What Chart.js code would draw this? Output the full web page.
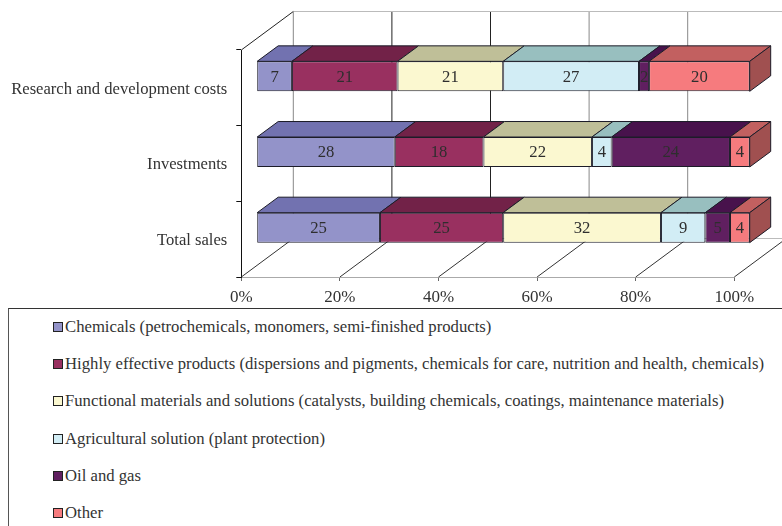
<!DOCTYPE html>
<html>
<head>
<meta charset="utf-8">
<title>Sales, investments and R&amp;D by segment</title>
<script src="https://cdn.jsdelivr.net/npm/chart.js@4"></script>
<style>
  html, body { margin: 0; padding: 0; background: #fff; overflow: hidden; }
  #wrap { position: relative; width: 782px; height: 526px; overflow: hidden; }
  #chart { position: absolute; left: 0; top: 0; }
  #legend {
    position: absolute; left: 8px; top: 308px; width: 774px; height: 218px;
    border-top: 1px solid #333; border-left: 1px solid #555; box-sizing: border-box;
    font: 16.7px "Liberation Serif", serif; color: #333;
  }
  .row { position: absolute; left: 44px; white-space: nowrap; line-height: 18px; }
  .box { display: inline-block; width: 8px; height: 8px; border: 1px solid #222; margin-right: 2px; }
</style>
</head>
<body>
<div id="wrap">
  <canvas id="chart" width="782" height="308"></canvas>
  <div id="legend"></div>
</div>
<script>
const categories = ['Research and development costs', 'Investments', 'Total sales'];
const tickStep = 20;

const seriesNames = [
  'Chemicals (petrochemicals, monomers, semi-finished products)',
  'Highly effective products (dispersions and pigments, chemicals for care, nutrition and health, chemicals)',
  'Functional materials and solutions (catalysts, building chemicals, coatings, maintenance materials)',
  'Agricultural solution (plant protection)',
  'Oil and gas',
  'Other'
];
const chemicals = [7, 28, 25];
const highlyEffective = [21, 18, 25];
const functionalMaterials = [21, 22, 32];
const agricultural = [27, 4, 9];
const oilAndGas = [2, 24, 5];
const other = [20, 4, 4];
const seriesValues = [chemicals, highlyEffective, functionalMaterials, agricultural, oilAndGas, other];

const frontColors = ['#9393c9', '#993060', '#fbf8d0', '#d2edf5', '#601f60', '#f67b7e'];
const topColors = ['#7272b0', '#722248', '#bfbf98', '#98bfbf', '#48124c', '#c26060'];
const sideColor = '#a05050';
const edgeColor = '#1c1c28';
const gridColors = ['#888', '#222', '#222', '#888', '#888', '#888'];

// the picture is a 100% stacked bar, so each row is scaled to its own total
const totals = categories.map((c, i) => seriesValues.reduce((sum, s) => sum + s[i], 0));
const shares = seriesValues.map(s => s.map((v, i) => v / totals[i] * 100));

// fake 3D: the bars sit a bit into the box, the box goes back on a slant
const barShift = { x: 15.4, y: -11.5 };
const barDepth = { x: 21, y: -15.5 };
const wallDepth = { x: 52, y: -38.5 };

function line(ctx, x1, y1, x2, y2, color) {
  ctx.strokeStyle = color;
  ctx.lineWidth = 1;
  ctx.beginPath();
  ctx.moveTo(x1, y1);
  ctx.lineTo(x2, y2);
  ctx.stroke();
}

function poly(ctx, pts, fill) {
  ctx.fillStyle = fill;
  ctx.strokeStyle = edgeColor;
  ctx.lineWidth = 1;
  ctx.beginPath();
  pts.forEach((p, i) => (i ? ctx.lineTo(p[0], p[1]) : ctx.moveTo(p[0], p[1])));
  ctx.closePath();
  ctx.fill();
  ctx.stroke();
}

const box3d = {
  id: 'box3d',
  beforeDatasetsDraw(chart) {
    const { ctx, chartArea: a, scales: { x } } = chart;
    const dx = wallDepth.x, dy = wallDepth.y;

    // walls and floor lines
    x.ticks.forEach((t, i) => {
      const px = x.getPixelForValue(t.value);
      line(ctx, px + dx, a.top + dy, px + dx, a.bottom + dy, gridColors[i]);
      line(ctx, px, a.bottom, px + dx, a.bottom + dy, '#333');
    });
    line(ctx, a.left + dx, a.top + dy, a.right + dx, a.top + dy, '#bbb');
    line(ctx, a.left + dx, a.bottom + dy, a.right + dx, a.bottom + dy, '#bbb');
    line(ctx, a.left, a.top, a.left + dx, a.top + dy, '#222');

    // top and end faces, the library draws the fronts over them
    ctx.save();
    ctx.translate(barShift.x, barShift.y);
    const bx = barDepth.x, by = barDepth.y;
    chart.data.datasets.forEach((ds, d) => {
      chart.getDatasetMeta(d).data.forEach(bar => {
        const top = bar.y - bar.height / 2;
        const bottom = bar.y + bar.height / 2;
        poly(ctx, [[bar.base, top], [bar.x, top], [bar.x + bx, top + by], [bar.base + bx, top + by]], topColors[d]);
        if (d === chart.data.datasets.length - 1) {
          poly(ctx, [[bar.x, top], [bar.x + bx, top + by], [bar.x + bx, bottom + by], [bar.x, bottom]], sideColor);
        }
      });
    });
    ctx.restore();

    ctx.save();
    ctx.translate(barShift.x, barShift.y);
  },
  afterDatasetsDraw(chart) {
    const { ctx } = chart;
    ctx.font = '16.7px "Liberation Serif", serif';
    ctx.fillStyle = '#2e2e2e';
    ctx.textAlign = 'center';
    ctx.textBaseline = 'middle';
    chart.data.datasets.forEach((ds, d) => {
      chart.getDatasetMeta(d).data.forEach((bar, i) => {
        ctx.fillText(seriesValues[d][i], (bar.x + bar.base) / 2, bar.y + 1);
      });
    });
    ctx.restore();
  }
};

new Chart(document.getElementById('chart'), {
  type: 'bar',
  data: {
    labels: categories,
    datasets: seriesNames.map((name, i) => ({
      label: name,
      data: shares[i],
      backgroundColor: frontColors[i],
      borderColor: edgeColor,
      borderWidth: 1,
      borderSkipped: false,
      categoryPercentage: 1,
      barPercentage: 0.396,
      clip: false
    }))
  },
  plugins: [box3d],
  options: {
    indexAxis: 'y',
    responsive: false,
    animation: false,
    layout: { padding: { left: 0, right: 47.7, top: 50, bottom: 0 } },
    plugins: {
      legend: { display: false },
      tooltip: { enabled: false }
    },
    scales: {
      x: {
        stacked: true,
        min: 0,
        max: 100,
        ticks: {
          stepSize: tickStep,
          callback: v => v + '%',
          color: '#333',
          padding: 6,
          maxRotation: 0,
          font: { family: '"Liberation Serif", serif', size: 17 }
        },
        grid: { drawOnChartArea: false, tickLength: 4, color: '#666' },
        border: { color: '#aaa' },
        afterFit: s => { s.height = 31; }
      },
      y: {
        stacked: true,
        ticks: {
          color: '#333',
          padding: 9,
          labelOffset: 1.5,
          font: { family: '"Liberation Serif", serif', size: 16.6 }
        },
        grid: { drawOnChartArea: false, tickLength: 5, color: '#111' },
        border: { color: '#111' },
        afterFit: s => { s.width = 241.3; }
      }
    }
  }
});

// legend rows sit under the chart in their own frame
const legend = document.getElementById('legend');
seriesNames.forEach((name, i) => {
  const row = document.createElement('div');
  row.className = 'row';
  row.style.top = (8.6 + i * 37.3) + 'px';
  const box = document.createElement('span');
  box.className = 'box';
  box.style.background = frontColors[i];
  row.appendChild(box);
  row.appendChild(document.createTextNode(name));
  legend.appendChild(row);
});
</script>
</body>
</html>
